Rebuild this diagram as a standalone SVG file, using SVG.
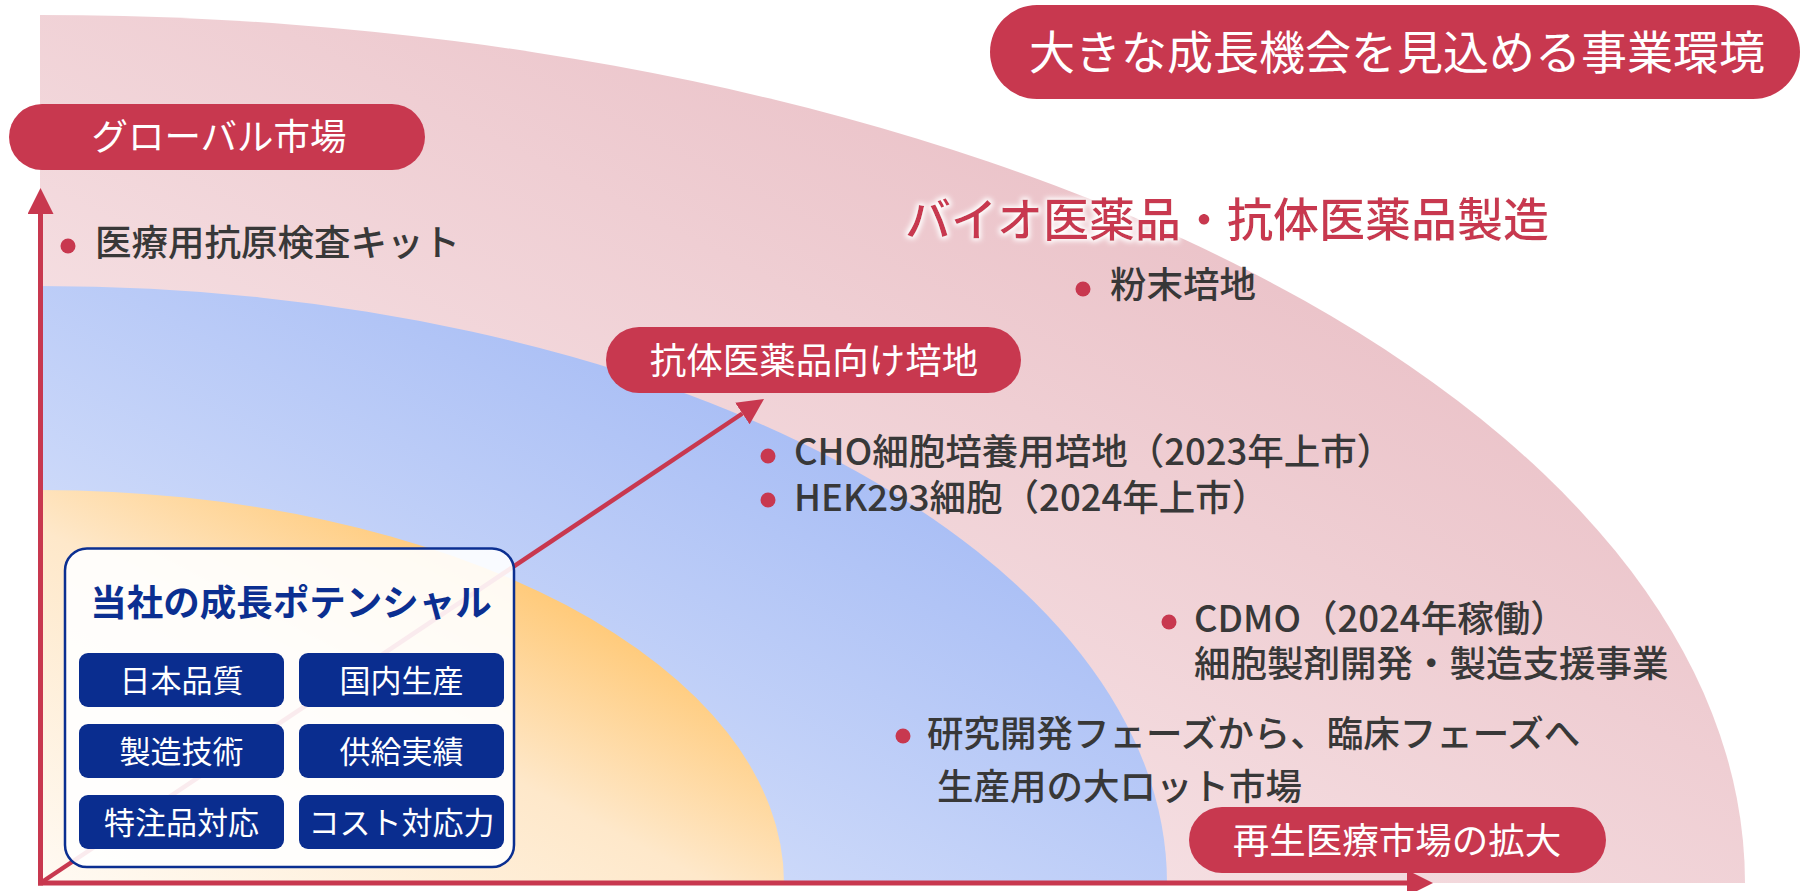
<svg xmlns="http://www.w3.org/2000/svg" width="1802" height="891" viewBox="0 0 1802 891">
<style>
text{font-family:"Noto Sans CJK JP","Noto Sans",sans-serif}
.pill{fill:#c8384f}
.pilltx{fill:#fff;font-size:36.5px;text-anchor:middle}
.body{fill:#383838;font-size:36.5px;font-weight:500}
.dot{fill:#c8384f}
.btn{fill:#0a2d8f}
.btntx{fill:#fff;font-size:31px;text-anchor:middle}
.ax{stroke:#c8384f;fill:none}
</style>
<defs>
<linearGradient id="gPink" x1="0" y1="1" x2="1" y2="0">
<stop offset="0" stop-color="#fdf5f6"/>
<stop offset="0.72" stop-color="#ebc3c9"/>
<stop offset="1" stop-color="#e9bec4"/>
</linearGradient>
<linearGradient id="gBlue" x1="0" y1="1" x2="1" y2="0">
<stop offset="0" stop-color="#e9effd"/>
<stop offset="0.72" stop-color="#a9bef5"/>
<stop offset="1" stop-color="#a5bbf4"/>
</linearGradient>
<linearGradient id="gOrange" x1="0" y1="1" x2="1" y2="0">
<stop offset="0" stop-color="#fffaf3"/>
<stop offset="0.45" stop-color="#fee8ca"/>
<stop offset="0.72" stop-color="#ffc977"/>
<stop offset="1" stop-color="#ffc670"/>
</linearGradient>
<marker id="ah" viewBox="0 0 26 26" markerWidth="26" markerHeight="26" refX="0" refY="13" orient="auto" markerUnits="userSpaceOnUse">
<path d="M0,0 L26,13 L0,26 Z" fill="#c8384f"/>
</marker>
<filter id="glow" x="-5%" y="-30%" width="110%" height="160%">
<feMorphology in="SourceAlpha" operator="dilate" radius="2" result="d"/>
<feGaussianBlur in="d" stdDeviation="2.5" result="b"/>
<feFlood flood-color="#ffffff"/>
<feComposite in2="b" operator="in" result="g"/>
<feMerge><feMergeNode in="g"/><feMergeNode in="SourceGraphic"/></feMerge>
</filter>
</defs>

<g id="regions">
<path id="region-global" d="M40,883 L40,15 A1705,868 0 0 1 1745,883 Z" fill="url(#gPink)"/>
<path id="region-antibody" d="M40,883 L40,286 A1127,597 0 0 1 1167,883 Z" fill="url(#gBlue)"/>
<path id="region-core" d="M40,883 L40,490 A744,393 0 0 1 784,883 Z" fill="url(#gOrange)"/>
</g>

<g id="connectors">
<line class="ax" x1="40.5" y1="885.5" x2="40.5" y2="214" stroke-width="5" marker-end="url(#ah)"/>
<line class="ax" x1="38" y1="883" x2="1407" y2="883" stroke-width="5" marker-end="url(#ah)"/>
<line class="ax" x1="42" y1="882" x2="742.4" y2="413.5" stroke-width="4.5" marker-end="url(#ah)"/>
</g>

<g id="node-title">
<rect class="pill" x="990" y="5" width="810" height="94" rx="47"/>
<text class="pilltx" x="1397" y="68.5" style="font-size:46px">大きな成長機会を見込める事業環境</text>
</g>

<g id="node-global">
<rect class="pill" x="9" y="104" width="416" height="66" rx="33"/>
<text class="pilltx" x="219" y="150">グローバル市場</text>
</g>

<g id="node-kit">
<circle class="dot" cx="68" cy="246" r="7.5"/>
<text class="body" x="95" y="256">医療用抗原検査キット</text>
</g>

<g id="node-bio">
<text x="905" y="236" fill="#c8384f" font-size="46" font-weight="500" filter="url(#glow)">バイオ医薬品・抗体医薬品製造</text>
</g>

<g id="node-powder">
<circle class="dot" cx="1083" cy="289" r="7.5"/>
<text class="body" x="1110" y="298">粉末培地</text>
</g>

<g id="node-antibody">
<rect class="pill" x="606" y="327" width="415" height="66" rx="33"/>
<text class="pilltx" x="814" y="374">抗体医薬品向け培地</text>
</g>

<g id="node-cho">
<circle class="dot" cx="768" cy="456" r="7.5"/>
<text class="body" x="794" y="465">CHO細胞培養用培地（2023年上市）</text>
</g>

<g id="node-hek">
<circle class="dot" cx="768" cy="500" r="7.5"/>
<text class="body" x="794" y="511">HEK293細胞（2024年上市）</text>
</g>

<g id="node-cdmo">
<circle class="dot" cx="1169" cy="622" r="7.5"/>
<text class="body" x="1194" y="632">CDMO（2024年稼働）</text>
<text class="body" x="1194" y="677">細胞製剤開発・製造支援事業</text>
</g>

<g id="node-research">
<circle class="dot" cx="903" cy="736" r="7.5"/>
<text class="body" x="927" y="747">研究開発フェーズから、臨床フェーズへ</text>
<text class="body" x="937" y="800">生産用の大ロット市場</text>
</g>

<g id="node-regen">
<rect class="pill" x="1189" y="807" width="417" height="66" rx="33"/>
<text class="pilltx" x="1397" y="854">再生医療市場の拡大</text>
</g>

<g id="node-potential">
<rect x="65" y="548.5" width="449" height="318.5" rx="22" fill="#ffffff" fill-opacity="0.9" stroke="#0b2f91" stroke-width="2.5"/>
<text x="291" y="616" fill="#0b2f91" font-size="36.5" font-weight="700" text-anchor="middle">当社の成長ポテンシャル</text>
<rect class="btn" x="79" y="653" width="205" height="54" rx="9"/>
<text class="btntx" x="181.5" y="691.5">日本品質</text>
<rect class="btn" x="299" y="653" width="205" height="54" rx="9"/>
<text class="btntx" x="401.5" y="691.5">国内生産</text>
<rect class="btn" x="79" y="724" width="205" height="54" rx="9"/>
<text class="btntx" x="181.5" y="762.5">製造技術</text>
<rect class="btn" x="299" y="724" width="205" height="54" rx="9"/>
<text class="btntx" x="401.5" y="762.5">供給実績</text>
<rect class="btn" x="79" y="795" width="205" height="54" rx="9"/>
<text class="btntx" x="181.5" y="833.5">特注品対応</text>
<rect class="btn" x="299" y="795" width="205" height="54" rx="9"/>
<text class="btntx" x="401.5" y="833.5">コスト対応力</text>
</g>
</svg>
